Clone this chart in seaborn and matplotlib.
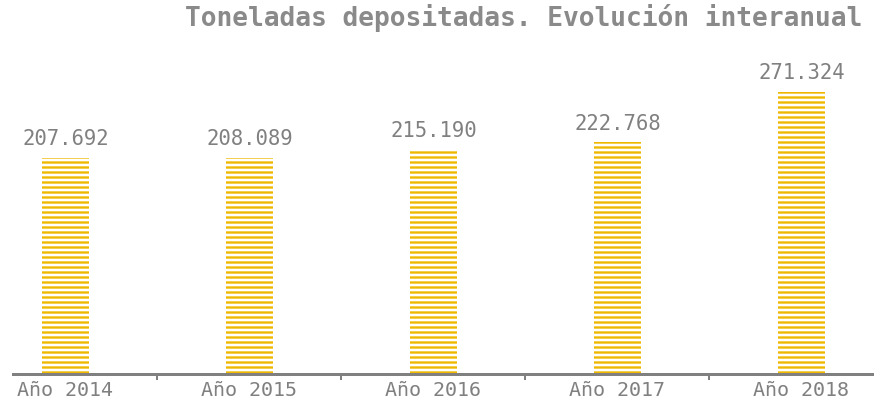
import matplotlib
matplotlib.use("Agg")
from matplotlib import pyplot as plt
import seaborn as sns
import pandas as pd

# datos
years = ['Año 2014', 'Año 2015', 'Año 2016', 'Año 2017', 'Año 2018']
tonnes = [207692, 208089, 215190, 222768, 271324]
title = 'Toneladas depositadas. Evolución interanual'

YELLOW = '#EFB800'
GREY = '#808080'
DPI = 90

sns.set_theme(style='white')
plt.rcParams['font.family'] = ['DejaVu Sans Mono']
plt.rcParams['hatch.linewidth'] = 1.9
plt.rcParams['hatch.color'] = YELLOW

df = pd.DataFrame({'year': years, 'tonnes': tonnes})

fig = plt.figure(figsize=(875 / DPI, 406 / DPI), dpi=DPI)
ax = fig.add_axes([13 / 875, 1 - 374 / 406, 1 - 13 / 875, (374 - 40) / 406])

sns.barplot(data=df, x='year', y='tonnes', color=YELLOW, width=0.255, ax=ax)

# barras rayadas
for p in ax.patches:
    p.set_facecolor('white')
    p.set_edgecolor(YELLOW)
    p.set_linewidth(0)
    p.set_hatch('---')
    if hasattr(p, 'set_hatchcolor'):
        p.set_hatchcolor(YELLOW)

# etiquetas de valor
for i, v in enumerate(tonnes):
    ax.annotate(f'{v:,}'.replace(',', '.'), (i, v), xytext=(0, 7),
                textcoords='offset points', ha='center', va='bottom',
                fontsize=16.5, color=GREY)

ax.set_xlim(-0.285, 4.40)
ax.set_ylim(0, 321200)

for s in ['left', 'top', 'right']:
    ax.spines[s].set_visible(False)
ax.spines['bottom'].set_color(GREY)
ax.spines['bottom'].set_linewidth(2.4)

ax.set_yticks([])
ax.set_xlabel('')
ax.set_ylabel('')
ax.tick_params(axis='x', which='major', length=0, pad=5.5, labelsize=16,
               labelcolor=GREY)
ax.set_xticks([0.5, 1.5, 2.5, 3.5], minor=True)
ax.tick_params(axis='x', which='minor', length=5, width=1.6, color=GREY,
               bottom=True)

fig.text(185 / 875, 1 - 18 / 406, title, ha='left', va='center',
         fontsize=21, fontweight='bold', color='#8a8a8a')

fig.savefig('out.png', dpi=DPI)
